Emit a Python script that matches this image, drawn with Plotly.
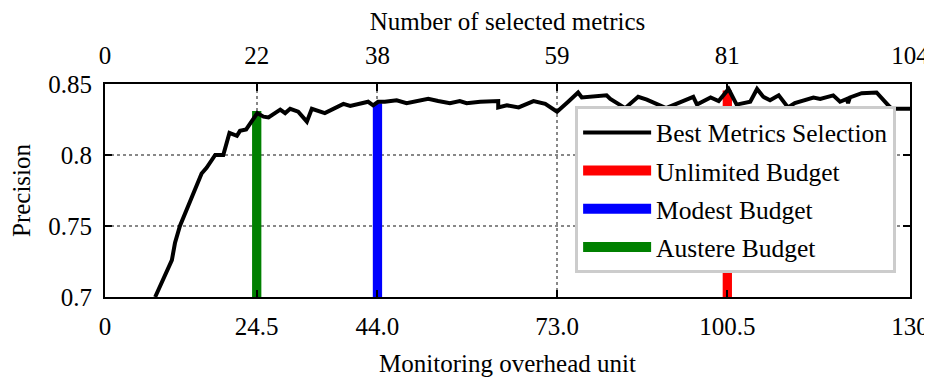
import plotly.graph_objects as go

# Best metrics selection curve (monitoring overhead unit vs precision)
overhead = [8.1, 10.8, 11.3, 12.1, 14.0, 15.6, 16.4, 17.8, 19.1, 20.1, 21.3, 21.8, 22.8,
            24.6, 25.6, 26.4, 28.3, 29.1, 29.9, 31.2, 32.6, 33.4, 35.5, 38.5, 39.6, 42.5,
            43.3, 44.1, 45.2, 47.1, 48.7, 50.3, 52.2, 53.8, 55.7, 57.3, 58.4, 60.6, 63.5,
            63.5, 64.9, 66.8, 69.2, 71.1, 73.0, 74.8, 76.4, 77.0, 79.4, 81.0, 81.6, 84.0,
            86.1, 87.5, 90.6, 92.9, 95.0, 95.6, 97.8, 99.1, 100.7, 102.0, 104.2, 105.3,
            106.3, 107.4, 108.8, 110.3, 111.4, 114.4, 115.5, 117.6, 118.7, 119.8, 120.0,
            120.3, 122.2, 124.6, 126.8, 127.6, 130.0]
precision = [0.700, 0.726, 0.738, 0.750, 0.770, 0.787, 0.791, 0.800, 0.800, 0.8155, 0.8135,
             0.817, 0.818, 0.8295, 0.827, 0.8265, 0.832, 0.8295, 0.8325, 0.8305, 0.8235,
             0.8325, 0.8295, 0.836, 0.8345, 0.8375, 0.835, 0.8375, 0.8375, 0.8385, 0.8365,
             0.838, 0.8395, 0.838, 0.8365, 0.838, 0.8365, 0.8375, 0.838, 0.8335, 0.835,
             0.8335, 0.838, 0.836, 0.8305, 0.8375, 0.844, 0.8405, 0.8415, 0.842, 0.8395,
             0.833, 0.841, 0.839, 0.833, 0.8375, 0.841, 0.8355, 0.8405, 0.838, 0.8465,
             0.8355, 0.8375, 0.8465, 0.841, 0.8385, 0.842, 0.8335, 0.8365, 0.8405, 0.8395,
             0.842, 0.8375, 0.8395, 0.8365, 0.8405, 0.8435, 0.844, 0.8335, 0.8325, 0.8325]

# Budget markers
budget_names = ["Unlimited Budget", "Modest Budget", "Austere Budget"]
budget_x = [100.5, 44.0, 24.5]
budget_prec = [0.8455, 0.8365, 0.831]
budget_colors = ["#ff0000", "#0000ff", "#008000"]

# Axes
x_ticks = [0, 24.5, 44.0, 73.0, 100.5, 130]
x_ticktext = ["0", "24.5", "44.0", "73.0", "100.5", "130"]
top_ticktext = ["0", "22", "38", "59", "81", "104"]
y_ticks = [0.7, 0.75, 0.8, 0.85]
y_ticktext = ["0.7", "0.75", "0.8", "0.85"]
y_base = 0.7

FONT = "Liberation Serif"
TICK_SIZE = 25
TITLE_SIZE = 25

fig = go.Figure()
fig.add_trace(go.Scatter(x=overhead, y=precision, mode="lines",
                         line=dict(color="black", width=4),
                         name="Best Metrics Selection", legendgroup="a"))
for name, bx, bp, col, g in zip(budget_names, budget_x, budget_prec, budget_colors, "bcd"):
    fig.add_trace(go.Bar(x=[bx], y=[bp - y_base], base=y_base, width=1.5,
                         marker=dict(color=col, line=dict(width=0)),
                         name=name, legendgroup=g, showlegend=False))
    # legend swatch (wide rectangle like the reference)
    fig.add_trace(go.Scatter(x=[None], y=[None], mode="lines",
                             line=dict(color=col, width=10),
                             name=name, legendgroup=g, hoverinfo="skip"))
# helper trace for top axis
fig.add_trace(go.Scatter(x=[0, 130], y=[None, None], xaxis="x2", showlegend=False,
                         hoverinfo="skip", mode="lines"))

grid = dict(showgrid=True, gridcolor="#888888", griddash="dot", gridwidth=2)
fig.update_layout(
    width=924, height=369,
    margin=dict(l=97, r=22, t=76, b=80),
    plot_bgcolor="white", paper_bgcolor="white",
    font=dict(family=FONT, size=TICK_SIZE, color="black"),
    barmode="overlay",
    showlegend=True,
    legend=dict(x=0.584, y=0.895, xanchor="left", yanchor="top",
                bgcolor="white", bordercolor="#cccccc", borderwidth=3,
                font=dict(family=FONT, size=25.5), traceorder="grouped",
                tracegroupgap=2, itemwidth=68),
    xaxis=dict(range=[0, 130], tickvals=x_ticks, ticktext=x_ticktext,
               ticks="inside", ticklen=7, tickwidth=2, tickcolor="black",
               showline=True, linecolor="black", linewidth=2, mirror=True,
               ticklabelstandoff=6, automargin=False, ticklabeloverflow="allow",
               tickfont=dict(size=TICK_SIZE),
               title=dict(text="Monitoring overhead unit", standoff=18,
                          font=dict(size=TITLE_SIZE)),
               zeroline=False, **grid),
    xaxis2=dict(range=[0, 130], overlaying="x", side="top", tickvals=x_ticks,
                ticktext=top_ticktext, ticks="inside", ticklen=7, tickwidth=2,
                tickcolor="black", showgrid=False, zeroline=False,
                ticklabelstandoff=14, automargin=False, ticklabeloverflow="allow",
                tickfont=dict(size=TICK_SIZE),
                title=dict(text="Number of selected metrics", standoff=14,
                           font=dict(size=TITLE_SIZE))),
    yaxis=dict(range=[0.7, 0.85], tickvals=y_ticks, ticktext=y_ticktext,
               ticks="inside", ticklen=7, tickwidth=2, tickcolor="black",
               showline=True, linecolor="black", linewidth=2, mirror="ticks",
               ticklabelstandoff=6, automargin=False,
               tickfont=dict(size=TICK_SIZE),
               title=dict(text="Precision", standoff=17, font=dict(size=TITLE_SIZE)),
               zeroline=False, **grid),
)
fig.write_html("out.html")
